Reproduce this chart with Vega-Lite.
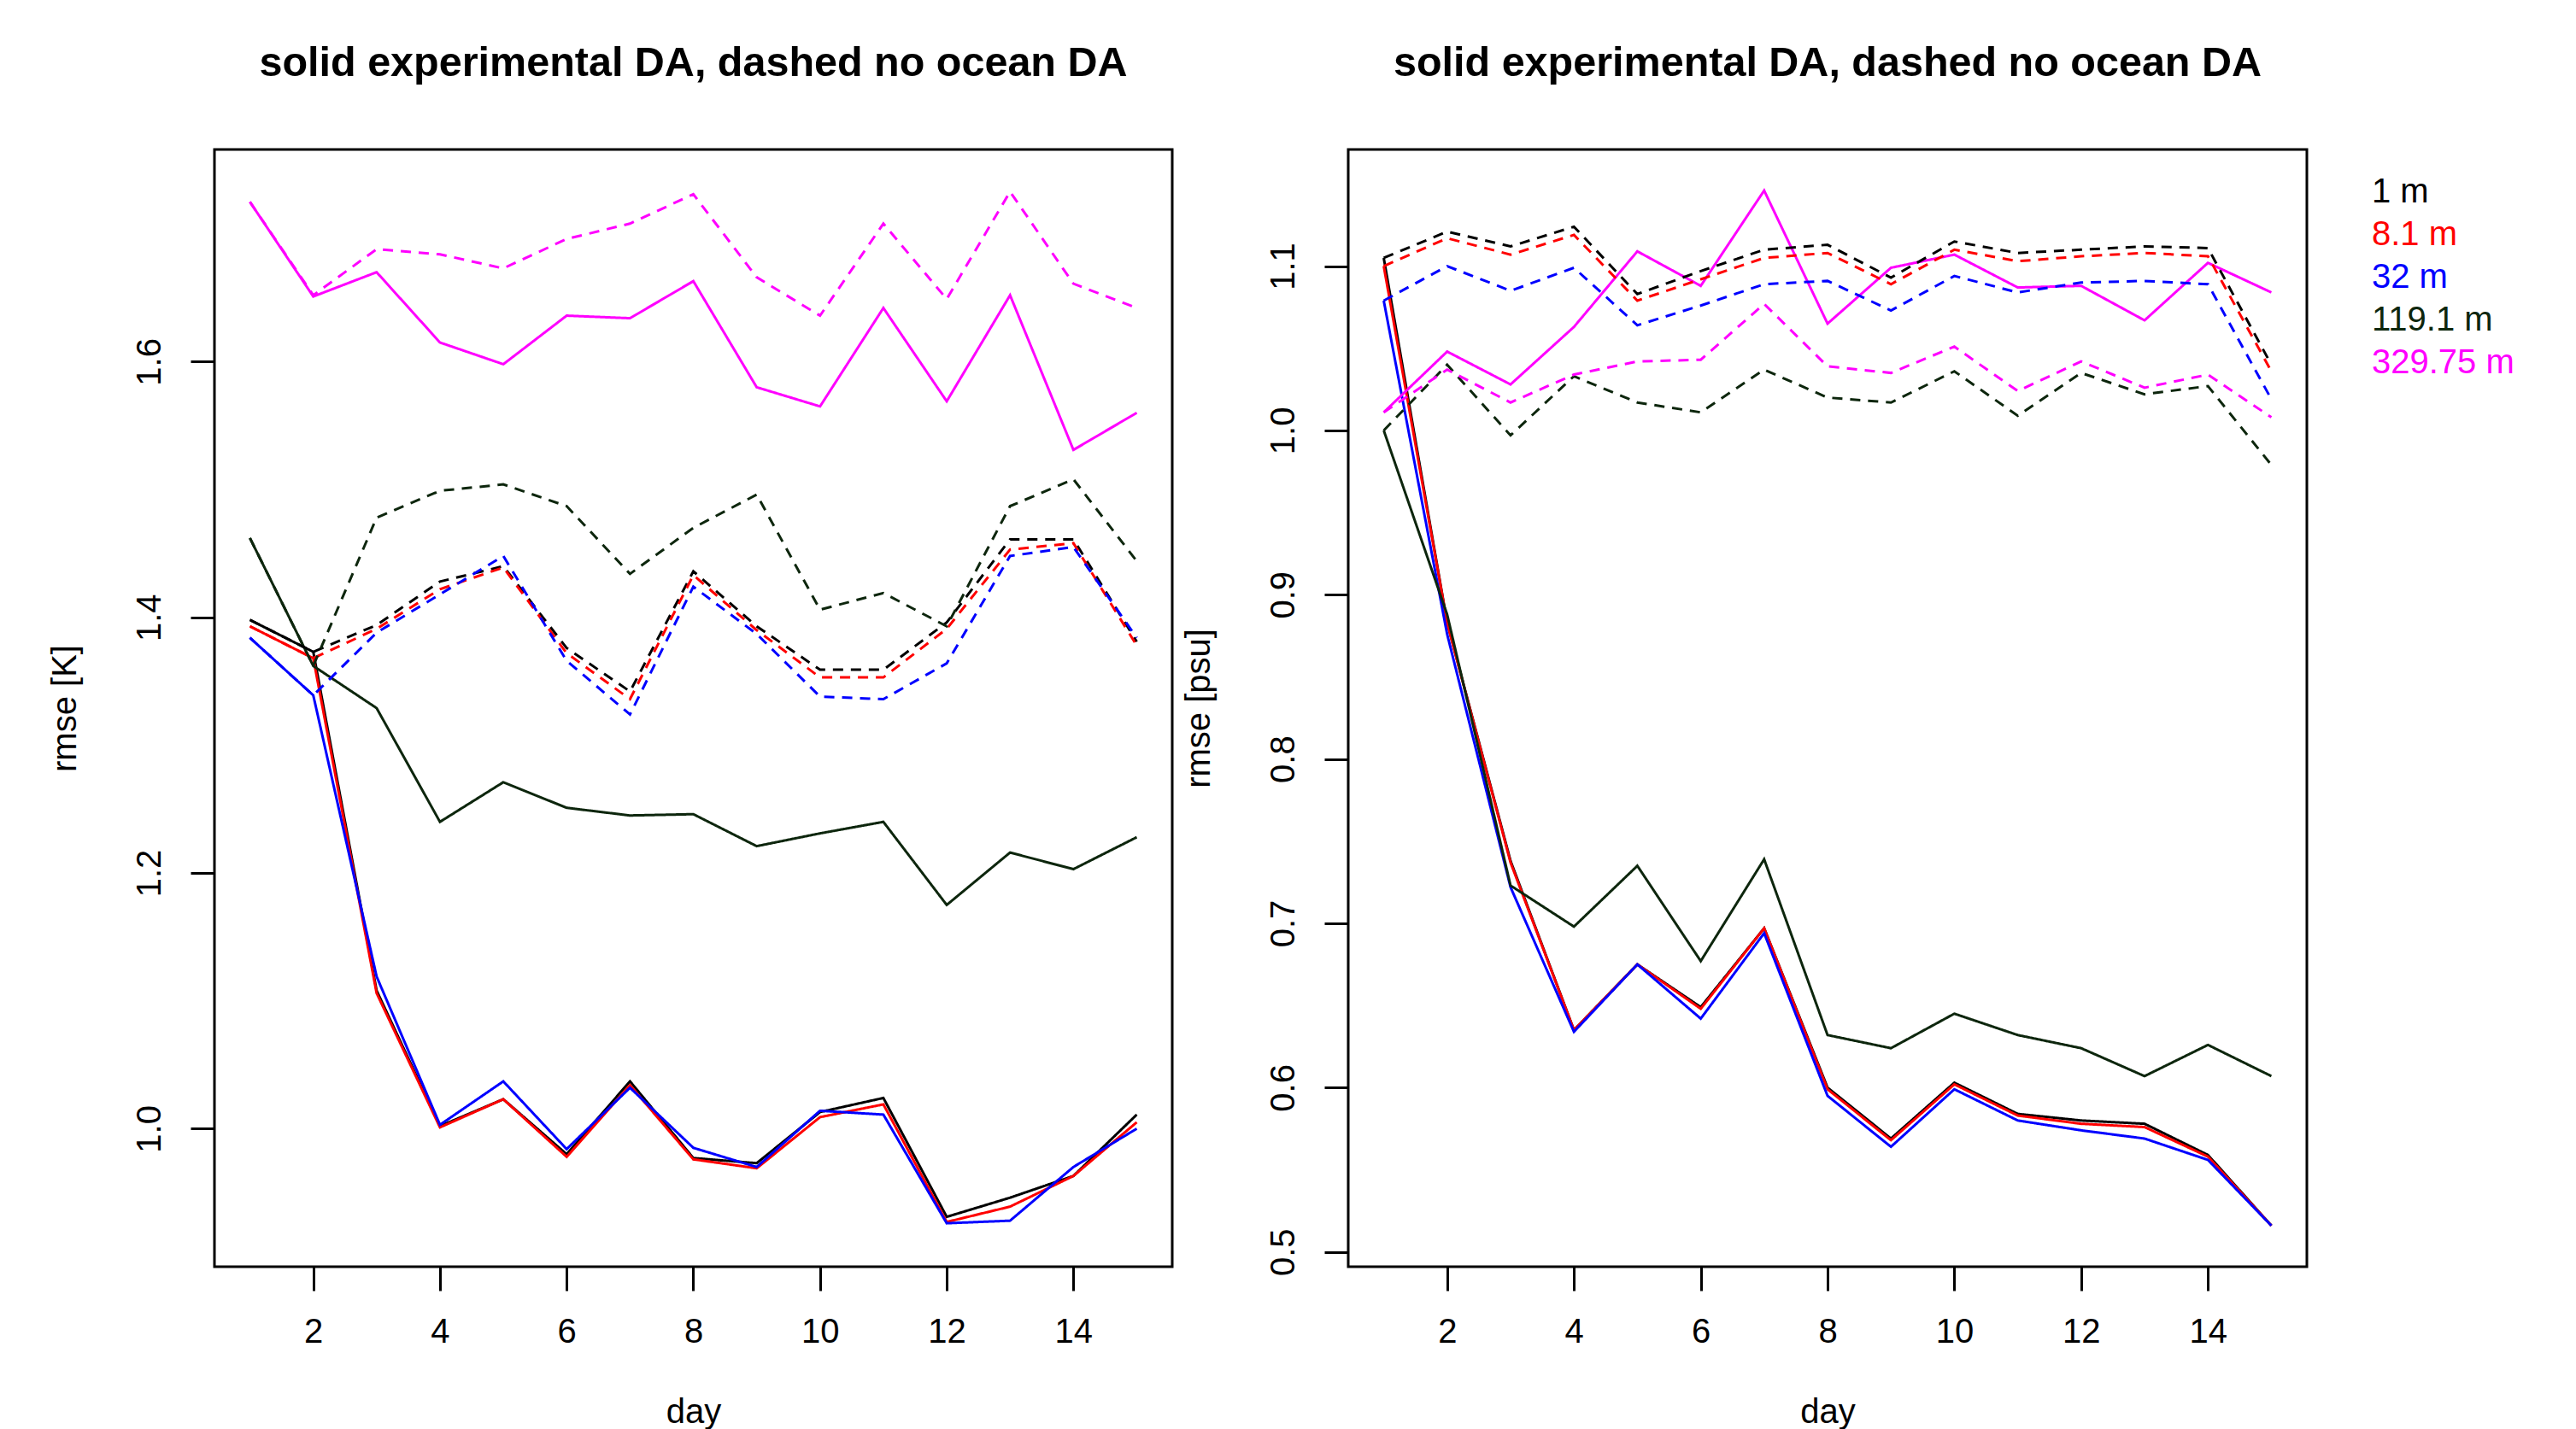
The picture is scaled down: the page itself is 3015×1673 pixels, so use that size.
{
  "$schema": "https://vega.github.io/schema/vega-lite/v6.json",
  "background": "white",
  "padding": {"left": 54, "top": 48, "right": 0, "bottom": 0},
  "autosize": {"type": "pad"},
  "config": {
    "font": "Liberation Sans",
    "view": {"stroke": "black", "strokeWidth": 3},
    "axis": {"domain": false, "grid": false, "tickColor": "black", "tickWidth": 3, "tickSize": 28, "labelFontSize": 40, "labelColor": "black", "labelFont": "Liberation Sans", "titleFont": "Liberation Sans", "titleFontSize": 40, "titleFontWeight": "normal", "titleColor": "black", "labelFlush": false, "labelOverlap": false},
    "axisY": {"labelAngle": 270, "labelAlign": "center", "labelBaseline": "bottom", "labelPadding": 28, "titleAngle": 270, "titleBaseline": "bottom", "titleAlign": "center", "titlePadding": 59},
    "axisX": {"labelBaseline": "top", "labelPadding": 28, "titleBaseline": "top", "titlePadding": 54},
    "title": {"fontSize": 48.5, "fontWeight": "bold", "font": "Liberation Sans", "color": "black", "anchor": "middle", "baseline": "bottom", "offset": 76}
  },
  "spacing": 7,
  "resolve": {"legend": {"color": "independent"}},
  "datasets": {
    "sst": [
      {"depth":"1 m","run":"experimental DA","day":1,"rmse":1.398},{"depth":"1 m","run":"experimental DA","day":2,"rmse":1.373},{"depth":"1 m","run":"experimental DA","day":3,"rmse":1.108},{"depth":"1 m","run":"experimental DA","day":4,"rmse":1.002},{"depth":"1 m","run":"experimental DA","day":5,"rmse":1.023},{"depth":"1 m","run":"experimental DA","day":6,"rmse":0.980},{"depth":"1 m","run":"experimental DA","day":7,"rmse":1.037},{"depth":"1 m","run":"experimental DA","day":8,"rmse":0.977},{"depth":"1 m","run":"experimental DA","day":9,"rmse":0.973},{"depth":"1 m","run":"experimental DA","day":10,"rmse":1.013},{"depth":"1 m","run":"experimental DA","day":11,"rmse":1.024},{"depth":"1 m","run":"experimental DA","day":12,"rmse":0.931},{"depth":"1 m","run":"experimental DA","day":13,"rmse":0.946},{"depth":"1 m","run":"experimental DA","day":14,"rmse":0.963},{"depth":"1 m","run":"experimental DA","day":15,"rmse":1.011},
      {"depth":"8.1 m","run":"experimental DA","day":1,"rmse":1.393},{"depth":"8.1 m","run":"experimental DA","day":2,"rmse":1.368},{"depth":"8.1 m","run":"experimental DA","day":3,"rmse":1.106},{"depth":"8.1 m","run":"experimental DA","day":4,"rmse":1.001},{"depth":"8.1 m","run":"experimental DA","day":5,"rmse":1.023},{"depth":"8.1 m","run":"experimental DA","day":6,"rmse":0.978},{"depth":"8.1 m","run":"experimental DA","day":7,"rmse":1.034},{"depth":"8.1 m","run":"experimental DA","day":8,"rmse":0.976},{"depth":"8.1 m","run":"experimental DA","day":9,"rmse":0.969},{"depth":"8.1 m","run":"experimental DA","day":10,"rmse":1.009},{"depth":"8.1 m","run":"experimental DA","day":11,"rmse":1.019},{"depth":"8.1 m","run":"experimental DA","day":12,"rmse":0.927},{"depth":"8.1 m","run":"experimental DA","day":13,"rmse":0.939},{"depth":"8.1 m","run":"experimental DA","day":14,"rmse":0.963},{"depth":"8.1 m","run":"experimental DA","day":15,"rmse":1.005},
      {"depth":"32 m","run":"experimental DA","day":1,"rmse":1.384},{"depth":"32 m","run":"experimental DA","day":2,"rmse":1.339},{"depth":"32 m","run":"experimental DA","day":3,"rmse":1.119},{"depth":"32 m","run":"experimental DA","day":4,"rmse":1.003},{"depth":"32 m","run":"experimental DA","day":5,"rmse":1.037},{"depth":"32 m","run":"experimental DA","day":6,"rmse":0.984},{"depth":"32 m","run":"experimental DA","day":7,"rmse":1.032},{"depth":"32 m","run":"experimental DA","day":8,"rmse":0.985},{"depth":"32 m","run":"experimental DA","day":9,"rmse":0.970},{"depth":"32 m","run":"experimental DA","day":10,"rmse":1.014},{"depth":"32 m","run":"experimental DA","day":11,"rmse":1.011},{"depth":"32 m","run":"experimental DA","day":12,"rmse":0.926},{"depth":"32 m","run":"experimental DA","day":13,"rmse":0.928},{"depth":"32 m","run":"experimental DA","day":14,"rmse":0.970},{"depth":"32 m","run":"experimental DA","day":15,"rmse":1.000},
      {"depth":"119.1 m","run":"experimental DA","day":1,"rmse":1.462},{"depth":"119.1 m","run":"experimental DA","day":2,"rmse":1.362},{"depth":"119.1 m","run":"experimental DA","day":3,"rmse":1.329},{"depth":"119.1 m","run":"experimental DA","day":4,"rmse":1.240},{"depth":"119.1 m","run":"experimental DA","day":5,"rmse":1.271},{"depth":"119.1 m","run":"experimental DA","day":6,"rmse":1.251},{"depth":"119.1 m","run":"experimental DA","day":7,"rmse":1.245},{"depth":"119.1 m","run":"experimental DA","day":8,"rmse":1.246},{"depth":"119.1 m","run":"experimental DA","day":9,"rmse":1.221},{"depth":"119.1 m","run":"experimental DA","day":10,"rmse":1.231},{"depth":"119.1 m","run":"experimental DA","day":11,"rmse":1.240},{"depth":"119.1 m","run":"experimental DA","day":12,"rmse":1.175},{"depth":"119.1 m","run":"experimental DA","day":13,"rmse":1.216},{"depth":"119.1 m","run":"experimental DA","day":14,"rmse":1.203},{"depth":"119.1 m","run":"experimental DA","day":15,"rmse":1.228},
      {"depth":"329.75 m","run":"experimental DA","day":1,"rmse":1.725},{"depth":"329.75 m","run":"experimental DA","day":2,"rmse":1.651},{"depth":"329.75 m","run":"experimental DA","day":3,"rmse":1.670},{"depth":"329.75 m","run":"experimental DA","day":4,"rmse":1.615},{"depth":"329.75 m","run":"experimental DA","day":5,"rmse":1.598},{"depth":"329.75 m","run":"experimental DA","day":6,"rmse":1.636},{"depth":"329.75 m","run":"experimental DA","day":7,"rmse":1.634},{"depth":"329.75 m","run":"experimental DA","day":8,"rmse":1.663},{"depth":"329.75 m","run":"experimental DA","day":9,"rmse":1.580},{"depth":"329.75 m","run":"experimental DA","day":10,"rmse":1.565},{"depth":"329.75 m","run":"experimental DA","day":11,"rmse":1.642},{"depth":"329.75 m","run":"experimental DA","day":12,"rmse":1.569},{"depth":"329.75 m","run":"experimental DA","day":13,"rmse":1.652},{"depth":"329.75 m","run":"experimental DA","day":14,"rmse":1.531},{"depth":"329.75 m","run":"experimental DA","day":15,"rmse":1.560},
      {"depth":"1 m","run":"no ocean DA","day":1,"rmse":1.398},{"depth":"1 m","run":"no ocean DA","day":2,"rmse":1.373},{"depth":"1 m","run":"no ocean DA","day":3,"rmse":1.394},{"depth":"1 m","run":"no ocean DA","day":4,"rmse":1.428},{"depth":"1 m","run":"no ocean DA","day":5,"rmse":1.440},{"depth":"1 m","run":"no ocean DA","day":6,"rmse":1.376},{"depth":"1 m","run":"no ocean DA","day":7,"rmse":1.342},{"depth":"1 m","run":"no ocean DA","day":8,"rmse":1.436},{"depth":"1 m","run":"no ocean DA","day":9,"rmse":1.393},{"depth":"1 m","run":"no ocean DA","day":10,"rmse":1.359},{"depth":"1 m","run":"no ocean DA","day":11,"rmse":1.359},{"depth":"1 m","run":"no ocean DA","day":12,"rmse":1.396},{"depth":"1 m","run":"no ocean DA","day":13,"rmse":1.461},{"depth":"1 m","run":"no ocean DA","day":14,"rmse":1.461},{"depth":"1 m","run":"no ocean DA","day":15,"rmse":1.381},
      {"depth":"8.1 m","run":"no ocean DA","day":1,"rmse":1.393},{"depth":"8.1 m","run":"no ocean DA","day":2,"rmse":1.368},{"depth":"8.1 m","run":"no ocean DA","day":3,"rmse":1.391},{"depth":"8.1 m","run":"no ocean DA","day":4,"rmse":1.422},{"depth":"8.1 m","run":"no ocean DA","day":5,"rmse":1.439},{"depth":"8.1 m","run":"no ocean DA","day":6,"rmse":1.372},{"depth":"8.1 m","run":"no ocean DA","day":7,"rmse":1.336},{"depth":"8.1 m","run":"no ocean DA","day":8,"rmse":1.433},{"depth":"8.1 m","run":"no ocean DA","day":9,"rmse":1.390},{"depth":"8.1 m","run":"no ocean DA","day":10,"rmse":1.353},{"depth":"8.1 m","run":"no ocean DA","day":11,"rmse":1.353},{"depth":"8.1 m","run":"no ocean DA","day":12,"rmse":1.391},{"depth":"8.1 m","run":"no ocean DA","day":13,"rmse":1.453},{"depth":"8.1 m","run":"no ocean DA","day":14,"rmse":1.458},{"depth":"8.1 m","run":"no ocean DA","day":15,"rmse":1.378},
      {"depth":"32 m","run":"no ocean DA","day":1,"rmse":1.384},{"depth":"32 m","run":"no ocean DA","day":2,"rmse":1.339},{"depth":"32 m","run":"no ocean DA","day":3,"rmse":1.388},{"depth":"32 m","run":"no ocean DA","day":4,"rmse":1.418},{"depth":"32 m","run":"no ocean DA","day":5,"rmse":1.448},{"depth":"32 m","run":"no ocean DA","day":6,"rmse":1.366},{"depth":"32 m","run":"no ocean DA","day":7,"rmse":1.324},{"depth":"32 m","run":"no ocean DA","day":8,"rmse":1.424},{"depth":"32 m","run":"no ocean DA","day":9,"rmse":1.387},{"depth":"32 m","run":"no ocean DA","day":10,"rmse":1.338},{"depth":"32 m","run":"no ocean DA","day":11,"rmse":1.336},{"depth":"32 m","run":"no ocean DA","day":12,"rmse":1.364},{"depth":"32 m","run":"no ocean DA","day":13,"rmse":1.448},{"depth":"32 m","run":"no ocean DA","day":14,"rmse":1.455},{"depth":"32 m","run":"no ocean DA","day":15,"rmse":1.384},
      {"depth":"119.1 m","run":"no ocean DA","day":1,"rmse":1.462},{"depth":"119.1 m","run":"no ocean DA","day":2,"rmse":1.362},{"depth":"119.1 m","run":"no ocean DA","day":3,"rmse":1.478},{"depth":"119.1 m","run":"no ocean DA","day":4,"rmse":1.499},{"depth":"119.1 m","run":"no ocean DA","day":5,"rmse":1.504},{"depth":"119.1 m","run":"no ocean DA","day":6,"rmse":1.487},{"depth":"119.1 m","run":"no ocean DA","day":7,"rmse":1.434},{"depth":"119.1 m","run":"no ocean DA","day":8,"rmse":1.470},{"depth":"119.1 m","run":"no ocean DA","day":9,"rmse":1.496},{"depth":"119.1 m","run":"no ocean DA","day":10,"rmse":1.406},{"depth":"119.1 m","run":"no ocean DA","day":11,"rmse":1.419},{"depth":"119.1 m","run":"no ocean DA","day":12,"rmse":1.393},{"depth":"119.1 m","run":"no ocean DA","day":13,"rmse":1.487},{"depth":"119.1 m","run":"no ocean DA","day":14,"rmse":1.508},{"depth":"119.1 m","run":"no ocean DA","day":15,"rmse":1.444},
      {"depth":"329.75 m","run":"no ocean DA","day":1,"rmse":1.725},{"depth":"329.75 m","run":"no ocean DA","day":2,"rmse":1.652},{"depth":"329.75 m","run":"no ocean DA","day":3,"rmse":1.688},{"depth":"329.75 m","run":"no ocean DA","day":4,"rmse":1.684},{"depth":"329.75 m","run":"no ocean DA","day":5,"rmse":1.673},{"depth":"329.75 m","run":"no ocean DA","day":6,"rmse":1.696},{"depth":"329.75 m","run":"no ocean DA","day":7,"rmse":1.708},{"depth":"329.75 m","run":"no ocean DA","day":8,"rmse":1.731},{"depth":"329.75 m","run":"no ocean DA","day":9,"rmse":1.666},{"depth":"329.75 m","run":"no ocean DA","day":10,"rmse":1.636},{"depth":"329.75 m","run":"no ocean DA","day":11,"rmse":1.708},{"depth":"329.75 m","run":"no ocean DA","day":12,"rmse":1.649},{"depth":"329.75 m","run":"no ocean DA","day":13,"rmse":1.733},{"depth":"329.75 m","run":"no ocean DA","day":14,"rmse":1.661},{"depth":"329.75 m","run":"no ocean DA","day":15,"rmse":1.642}
    ],
    "sss": [
      {"depth":"1 m","run":"experimental DA","day":1,"rmse":1.105},{"depth":"1 m","run":"experimental DA","day":2,"rmse":0.883},{"depth":"1 m","run":"experimental DA","day":3,"rmse":0.738},{"depth":"1 m","run":"experimental DA","day":4,"rmse":0.635},{"depth":"1 m","run":"experimental DA","day":5,"rmse":0.675},{"depth":"1 m","run":"experimental DA","day":6,"rmse":0.649},{"depth":"1 m","run":"experimental DA","day":7,"rmse":0.697},{"depth":"1 m","run":"experimental DA","day":8,"rmse":0.600},{"depth":"1 m","run":"experimental DA","day":9,"rmse":0.569},{"depth":"1 m","run":"experimental DA","day":10,"rmse":0.603},{"depth":"1 m","run":"experimental DA","day":11,"rmse":0.584},{"depth":"1 m","run":"experimental DA","day":12,"rmse":0.580},{"depth":"1 m","run":"experimental DA","day":13,"rmse":0.578},{"depth":"1 m","run":"experimental DA","day":14,"rmse":0.559},{"depth":"1 m","run":"experimental DA","day":15,"rmse":0.516},
      {"depth":"8.1 m","run":"experimental DA","day":1,"rmse":1.100},{"depth":"8.1 m","run":"experimental DA","day":2,"rmse":0.883},{"depth":"8.1 m","run":"experimental DA","day":3,"rmse":0.737},{"depth":"8.1 m","run":"experimental DA","day":4,"rmse":0.635},{"depth":"8.1 m","run":"experimental DA","day":5,"rmse":0.675},{"depth":"8.1 m","run":"experimental DA","day":6,"rmse":0.648},{"depth":"8.1 m","run":"experimental DA","day":7,"rmse":0.697},{"depth":"8.1 m","run":"experimental DA","day":8,"rmse":0.599},{"depth":"8.1 m","run":"experimental DA","day":9,"rmse":0.568},{"depth":"8.1 m","run":"experimental DA","day":10,"rmse":0.602},{"depth":"8.1 m","run":"experimental DA","day":11,"rmse":0.583},{"depth":"8.1 m","run":"experimental DA","day":12,"rmse":0.578},{"depth":"8.1 m","run":"experimental DA","day":13,"rmse":0.576},{"depth":"8.1 m","run":"experimental DA","day":14,"rmse":0.558},{"depth":"8.1 m","run":"experimental DA","day":15,"rmse":0.516},
      {"depth":"32 m","run":"experimental DA","day":1,"rmse":1.079},{"depth":"32 m","run":"experimental DA","day":2,"rmse":0.876},{"depth":"32 m","run":"experimental DA","day":3,"rmse":0.722},{"depth":"32 m","run":"experimental DA","day":4,"rmse":0.634},{"depth":"32 m","run":"experimental DA","day":5,"rmse":0.675},{"depth":"32 m","run":"experimental DA","day":6,"rmse":0.642},{"depth":"32 m","run":"experimental DA","day":7,"rmse":0.694},{"depth":"32 m","run":"experimental DA","day":8,"rmse":0.595},{"depth":"32 m","run":"experimental DA","day":9,"rmse":0.564},{"depth":"32 m","run":"experimental DA","day":10,"rmse":0.599},{"depth":"32 m","run":"experimental DA","day":11,"rmse":0.580},{"depth":"32 m","run":"experimental DA","day":12,"rmse":0.574},{"depth":"32 m","run":"experimental DA","day":13,"rmse":0.569},{"depth":"32 m","run":"experimental DA","day":14,"rmse":0.556},{"depth":"32 m","run":"experimental DA","day":15,"rmse":0.516},
      {"depth":"119.1 m","run":"experimental DA","day":1,"rmse":1.000},{"depth":"119.1 m","run":"experimental DA","day":2,"rmse":0.888},{"depth":"119.1 m","run":"experimental DA","day":3,"rmse":0.723},{"depth":"119.1 m","run":"experimental DA","day":4,"rmse":0.698},{"depth":"119.1 m","run":"experimental DA","day":5,"rmse":0.735},{"depth":"119.1 m","run":"experimental DA","day":6,"rmse":0.677},{"depth":"119.1 m","run":"experimental DA","day":7,"rmse":0.739},{"depth":"119.1 m","run":"experimental DA","day":8,"rmse":0.632},{"depth":"119.1 m","run":"experimental DA","day":9,"rmse":0.624},{"depth":"119.1 m","run":"experimental DA","day":10,"rmse":0.645},{"depth":"119.1 m","run":"experimental DA","day":11,"rmse":0.632},{"depth":"119.1 m","run":"experimental DA","day":12,"rmse":0.624},{"depth":"119.1 m","run":"experimental DA","day":13,"rmse":0.607},{"depth":"119.1 m","run":"experimental DA","day":14,"rmse":0.626},{"depth":"119.1 m","run":"experimental DA","day":15,"rmse":0.607},
      {"depth":"329.75 m","run":"experimental DA","day":1,"rmse":1.011},{"depth":"329.75 m","run":"experimental DA","day":2,"rmse":1.048},{"depth":"329.75 m","run":"experimental DA","day":3,"rmse":1.028},{"depth":"329.75 m","run":"experimental DA","day":4,"rmse":1.063},{"depth":"329.75 m","run":"experimental DA","day":5,"rmse":1.109},{"depth":"329.75 m","run":"experimental DA","day":6,"rmse":1.088},{"depth":"329.75 m","run":"experimental DA","day":7,"rmse":1.146},{"depth":"329.75 m","run":"experimental DA","day":8,"rmse":1.065},{"depth":"329.75 m","run":"experimental DA","day":9,"rmse":1.099},{"depth":"329.75 m","run":"experimental DA","day":10,"rmse":1.107},{"depth":"329.75 m","run":"experimental DA","day":11,"rmse":1.087},{"depth":"329.75 m","run":"experimental DA","day":12,"rmse":1.088},{"depth":"329.75 m","run":"experimental DA","day":13,"rmse":1.067},{"depth":"329.75 m","run":"experimental DA","day":14,"rmse":1.102},{"depth":"329.75 m","run":"experimental DA","day":15,"rmse":1.084},
      {"depth":"1 m","run":"no ocean DA","day":1,"rmse":1.105},{"depth":"1 m","run":"no ocean DA","day":2,"rmse":1.121},{"depth":"1 m","run":"no ocean DA","day":3,"rmse":1.112},{"depth":"1 m","run":"no ocean DA","day":4,"rmse":1.124},{"depth":"1 m","run":"no ocean DA","day":5,"rmse":1.083},{"depth":"1 m","run":"no ocean DA","day":6,"rmse":1.097},{"depth":"1 m","run":"no ocean DA","day":7,"rmse":1.110},{"depth":"1 m","run":"no ocean DA","day":8,"rmse":1.113},{"depth":"1 m","run":"no ocean DA","day":9,"rmse":1.093},{"depth":"1 m","run":"no ocean DA","day":10,"rmse":1.115},{"depth":"1 m","run":"no ocean DA","day":11,"rmse":1.108},{"depth":"1 m","run":"no ocean DA","day":12,"rmse":1.110},{"depth":"1 m","run":"no ocean DA","day":13,"rmse":1.112},{"depth":"1 m","run":"no ocean DA","day":14,"rmse":1.111},{"depth":"1 m","run":"no ocean DA","day":15,"rmse":1.040},
      {"depth":"8.1 m","run":"no ocean DA","day":1,"rmse":1.100},{"depth":"8.1 m","run":"no ocean DA","day":2,"rmse":1.117},{"depth":"8.1 m","run":"no ocean DA","day":3,"rmse":1.107},{"depth":"8.1 m","run":"no ocean DA","day":4,"rmse":1.119},{"depth":"8.1 m","run":"no ocean DA","day":5,"rmse":1.079},{"depth":"8.1 m","run":"no ocean DA","day":6,"rmse":1.092},{"depth":"8.1 m","run":"no ocean DA","day":7,"rmse":1.105},{"depth":"8.1 m","run":"no ocean DA","day":8,"rmse":1.108},{"depth":"8.1 m","run":"no ocean DA","day":9,"rmse":1.089},{"depth":"8.1 m","run":"no ocean DA","day":10,"rmse":1.110},{"depth":"8.1 m","run":"no ocean DA","day":11,"rmse":1.103},{"depth":"8.1 m","run":"no ocean DA","day":12,"rmse":1.106},{"depth":"8.1 m","run":"no ocean DA","day":13,"rmse":1.108},{"depth":"8.1 m","run":"no ocean DA","day":14,"rmse":1.106},{"depth":"8.1 m","run":"no ocean DA","day":15,"rmse":1.036},
      {"depth":"32 m","run":"no ocean DA","day":1,"rmse":1.079},{"depth":"32 m","run":"no ocean DA","day":2,"rmse":1.100},{"depth":"32 m","run":"no ocean DA","day":3,"rmse":1.085},{"depth":"32 m","run":"no ocean DA","day":4,"rmse":1.099},{"depth":"32 m","run":"no ocean DA","day":5,"rmse":1.064},{"depth":"32 m","run":"no ocean DA","day":6,"rmse":1.076},{"depth":"32 m","run":"no ocean DA","day":7,"rmse":1.089},{"depth":"32 m","run":"no ocean DA","day":8,"rmse":1.091},{"depth":"32 m","run":"no ocean DA","day":9,"rmse":1.073},{"depth":"32 m","run":"no ocean DA","day":10,"rmse":1.094},{"depth":"32 m","run":"no ocean DA","day":11,"rmse":1.084},{"depth":"32 m","run":"no ocean DA","day":12,"rmse":1.090},{"depth":"32 m","run":"no ocean DA","day":13,"rmse":1.091},{"depth":"32 m","run":"no ocean DA","day":14,"rmse":1.089},{"depth":"32 m","run":"no ocean DA","day":15,"rmse":1.019},
      {"depth":"119.1 m","run":"no ocean DA","day":1,"rmse":1.000},{"depth":"119.1 m","run":"no ocean DA","day":2,"rmse":1.040},{"depth":"119.1 m","run":"no ocean DA","day":3,"rmse":0.997},{"depth":"119.1 m","run":"no ocean DA","day":4,"rmse":1.033},{"depth":"119.1 m","run":"no ocean DA","day":5,"rmse":1.017},{"depth":"119.1 m","run":"no ocean DA","day":6,"rmse":1.011},{"depth":"119.1 m","run":"no ocean DA","day":7,"rmse":1.037},{"depth":"119.1 m","run":"no ocean DA","day":8,"rmse":1.020},{"depth":"119.1 m","run":"no ocean DA","day":9,"rmse":1.017},{"depth":"119.1 m","run":"no ocean DA","day":10,"rmse":1.036},{"depth":"119.1 m","run":"no ocean DA","day":11,"rmse":1.009},{"depth":"119.1 m","run":"no ocean DA","day":12,"rmse":1.035},{"depth":"119.1 m","run":"no ocean DA","day":13,"rmse":1.022},{"depth":"119.1 m","run":"no ocean DA","day":14,"rmse":1.027},{"depth":"119.1 m","run":"no ocean DA","day":15,"rmse":0.979},
      {"depth":"329.75 m","run":"no ocean DA","day":1,"rmse":1.011},{"depth":"329.75 m","run":"no ocean DA","day":2,"rmse":1.037},{"depth":"329.75 m","run":"no ocean DA","day":3,"rmse":1.017},{"depth":"329.75 m","run":"no ocean DA","day":4,"rmse":1.034},{"depth":"329.75 m","run":"no ocean DA","day":5,"rmse":1.042},{"depth":"329.75 m","run":"no ocean DA","day":6,"rmse":1.043},{"depth":"329.75 m","run":"no ocean DA","day":7,"rmse":1.077},{"depth":"329.75 m","run":"no ocean DA","day":8,"rmse":1.039},{"depth":"329.75 m","run":"no ocean DA","day":9,"rmse":1.035},{"depth":"329.75 m","run":"no ocean DA","day":10,"rmse":1.051},{"depth":"329.75 m","run":"no ocean DA","day":11,"rmse":1.024},{"depth":"329.75 m","run":"no ocean DA","day":12,"rmse":1.042},{"depth":"329.75 m","run":"no ocean DA","day":13,"rmse":1.026},{"depth":"329.75 m","run":"no ocean DA","day":14,"rmse":1.034},{"depth":"329.75 m","run":"no ocean DA","day":15,"rmse":1.008}
    ]
  },
  "hconcat": [
    {
      "data": {"name": "sst"},
      "width": 1121,
      "height": 1308,
      "title": {"text": "solid experimental DA, dashed no ocean DA"},
      "mark": {"type": "line", "strokeWidth": 3},
      "encoding": {
        "x": {"field": "day", "type": "quantitative", "scale": {"domain": [0.44, 15.56], "nice": false, "zero": false}, "axis": {"values": [2, 4, 6, 8, 10, 12, 14], "format": "d", "title": "day"}},
        "y": {"field": "rmse", "type": "quantitative", "scale": {"domain": [0.892, 1.766], "nice": false, "zero": false}, "axis": {"values": [1.0, 1.2, 1.4, 1.6], "format": ".1f", "title": "rmse [K]"}},
        "color": {"field": "depth", "type": "nominal", "scale": {"domain": ["1 m", "8.1 m", "32 m", "119.1 m", "329.75 m"], "range": ["#000000", "#FF0000", "#0000FF", "#0D260D", "#FF00FF"]}, "legend": null},
        "strokeDash": {"field": "run", "type": "nominal", "scale": {"domain": ["experimental DA", "no ocean DA"], "range": [[1, 0], [12, 9]]}, "legend": null}
      }
    },
    {
      "data": {"name": "sss"},
      "width": 1122,
      "height": 1308,
      "title": {"text": "solid experimental DA, dashed no ocean DA"},
      "mark": {"type": "line", "strokeWidth": 3},
      "encoding": {
        "x": {"field": "day", "type": "quantitative", "scale": {"domain": [0.44, 15.56], "nice": false, "zero": false}, "axis": {"values": [2, 4, 6, 8, 10, 12, 14], "format": "d", "title": "day"}},
        "y": {"field": "rmse", "type": "quantitative", "scale": {"domain": [0.491, 1.171], "nice": false, "zero": false}, "axis": {"values": [0.5, 0.6, 0.7, 0.8, 0.9, 1.0, 1.1], "format": ".1f", "title": "rmse [psu]"}},
        "color": {"field": "depth", "type": "nominal", "scale": {"domain": ["1 m", "8.1 m", "32 m", "119.1 m", "329.75 m"], "range": ["#000000", "#FF0000", "#0000FF", "#0D260D", "#FF00FF"]},
          "legend": {"title": null, "orient": "none", "legendX": 1158, "legendY": 30, "symbolSize": 0, "symbolStrokeWidth": 0, "symbolOpacity": 0, "labelOffset": 0, "labelFontSize": 40, "labelFont": "Liberation Sans", "labelLimit": 0, "rowPadding": 10, "padding": 0,
            "encode": {"labels": {"update": {"fill": {"scale": "color", "field": "value"}}}}}},
        "strokeDash": {"field": "run", "type": "nominal", "scale": {"domain": ["experimental DA", "no ocean DA"], "range": [[1, 0], [12, 9]]}, "legend": null}
      }
    }
  ]
}
